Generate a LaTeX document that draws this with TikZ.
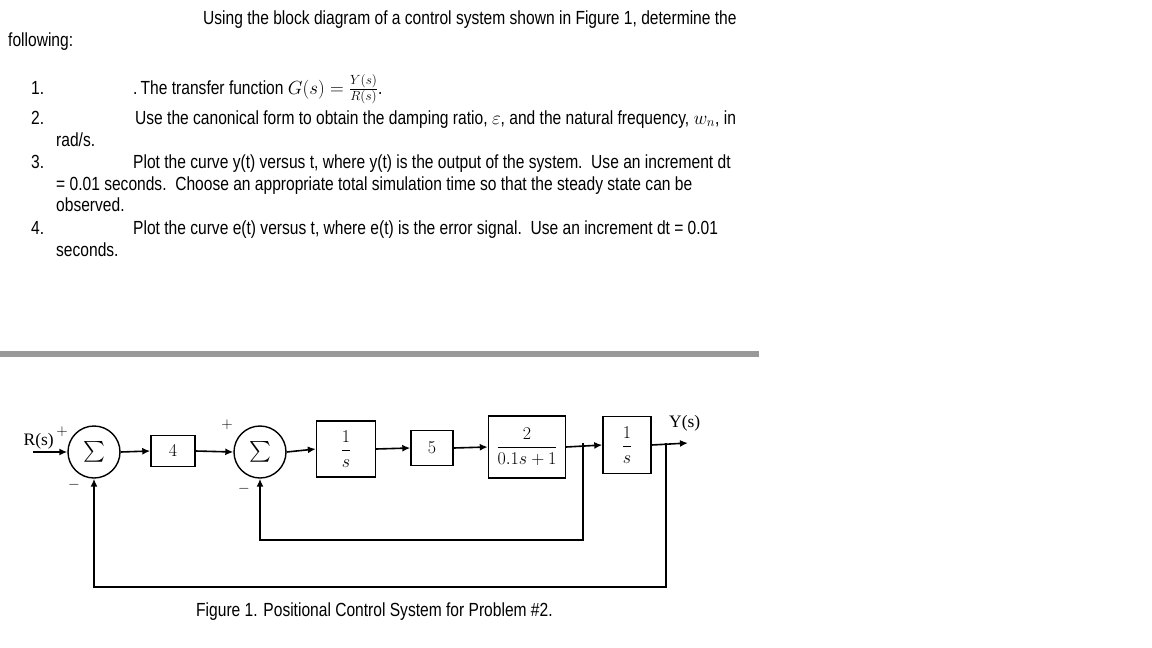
\documentclass[tikz,border=0pt]{standalone}
\usepackage{fix-cm}
\usepackage{amsmath}
\usepackage{fontspec}
\setmainfont{Liberation Sans}[FakeStretch=0.82]
\newfontfamily\lblfont{Liberation Serif}
\usepackage{xcolor}
\definecolor{bargray}{RGB}{153,153,153}
\usetikzlibrary{arrows.meta, positioning}

\begin{document}
\begin{tikzpicture}[x=1pt, y=-1pt,
  txt/.style={anchor=base west, inner sep=0pt, font=\fontsize{19}{22}\selectfont},
  blk/.style={rectangle, draw, line width=1.4pt, inner sep=0pt,
              font=\fontsize{18}{21}\selectfont},
  sumnode/.style={circle, draw, line width=1.4pt, minimum size=52pt,
                  inner sep=0pt, font=\fontsize{20}{23}\selectfont},
  arr/.style={-{Latex[length=8pt,width=7pt]}, line width=1.6pt},
  sig/.style={inner sep=0pt, font=\lblfont\fontsize{17.5}{20}\selectfont},
  sgn/.style={inner sep=0pt, font=\fontsize{15}{17}\selectfont}
]
\useasboundingbox (0,0) rectangle (1152,648);

% Problem text
\node[txt] (intro) at (203,24) {Using the block diagram of a control system shown in Figure 1, determine the};
\node[txt] (introb) at (8,46) {following:};
\node[txt] (numA) at (31,94) {1.};
\node[txt] (itemA) at (133,94) {.\,The transfer function $G(s)=\frac{Y(s)}{R(s)}$.};
\node[txt] (numB) at (31,124) {2.};
\node[txt] (itemB) at (135,124) {Use the canonical form to obtain the damping ratio, $\varepsilon$, and the natural frequency, $w_n$, in};
\node[txt] (itemBb) at (56,146) {rad/s.};
\node[txt] (numC) at (31,168) {3.};
\node[txt] (itemC) at (133,168) {Plot the curve y(t) versus t, where y(t) is the output of the system.\ \ Use an increment dt};
\node[txt] (itemCb) at (56,190) {= 0.01 seconds.\ \ Choose an appropriate total simulation time so that the steady state can be};
\node[txt] (itemCc) at (56,211) {observed.};
\node[txt] (numD) at (31,234) {4.};
\node[txt] (itemD) at (133,234) {Plot the curve e(t) versus t, where e(t) is the error signal.\ \ Use an increment dt = 0.01};
\node[txt] (itemDb) at (56,256) {seconds.};

% Separator
\fill[bargray] (0,351) rectangle (759,357);

% Blocks
\node[sumnode] (sumA) at (94,452) {$\sum$};
\node[blk, minimum width=44pt, minimum height=31pt] (gainA) at (173,451) {$4$};
\node[sumnode] (sumB) at (260,452) {$\sum$};
\node[blk, minimum width=59pt, minimum height=56pt] (integA) at (346,449) {$\dfrac{1}{s}$};
\node[blk, minimum width=42pt, minimum height=35pt] (gainB) at (432,448) {$5$};
\node[blk, minimum width=77pt, minimum height=62pt] (lag) at (527,447) {$\dfrac{2}{0.1s+1}$};
\node[blk, minimum width=48pt, minimum height=57pt] (integB) at (627,445) {$\dfrac{1}{s}$};

% Signals
\coordinate (rin) at (33,452);
\coordinate (yout) at (688,443);
\coordinate (tapA) at (583,443);
\coordinate (lowA) at (583,540);
\coordinate (tapB) at (666,443);
\coordinate (lowB) at (666,587);
\node[sig, anchor=south east] (rlbl) at (54,449) {R(s)};
\node[sig, anchor=south west] (ylbl) at (669,431) {Y(s)};
\node[sgn] (plusA) at (62,432) {$+$};
\node[sgn] (minusA) at (74,485) {$-$};
\node[sgn] (plusB) at (227,425) {$+$};
\node[sgn] (minusB) at (244,489) {$-$};

% Arrows
\draw[arr] (rin) -- (sumA.west);
\draw[arr] (sumA.east) -- (gainA.west);
\draw[arr] (gainA.east) -- (sumB.west);
\draw[arr] (sumB.east) -- (integA.west);
\draw[arr] (integA.east) -- (gainB.west);
\draw[arr] (gainB.east) -- (lag.west);
\draw[arr] (lag.east) -- (integB.west);
\draw[arr] (integB.east) -- (yout);

% Feedback loops
\draw[arr] (tapA) -- (lowA) -| (sumB.south);
\draw[arr] (tapB) -- (lowB) -| (sumA.south);

% Caption
\node[txt] (caption) at (196,616) {Figure 1. Positional Control System for Problem \#2.};
\end{tikzpicture}
\end{document}
